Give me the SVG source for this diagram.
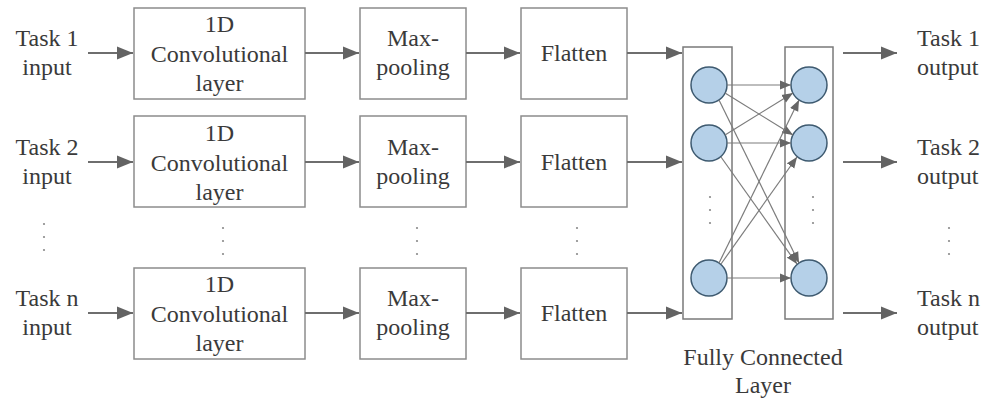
<svg xmlns="http://www.w3.org/2000/svg" width="988" height="398" viewBox="0 0 988 398">
  <style>
    text { font-size: 24px; fill: #3a3a3a; }
    .mid { text-anchor: middle; }
    .box { fill: #ffffff; stroke: #8c8c8c; stroke-width: 1.5; }
    .col { fill: none; stroke: #7a7a7a; stroke-width: 1.5; }
    .neuron { fill: #b5d0e8; stroke: #3e5a70; stroke-width: 1.5; }
    .flow { fill: none; stroke: #6e6e6e; stroke-width: 2.2; marker-end: url(#head); }
    .link { fill: none; stroke: #7c7c7c; stroke-width: 1.2; marker-end: url(#headSmall); }
    .dot { fill: #8a8a8a; }
  </style>
  <defs>
    <marker id="head" markerUnits="userSpaceOnUse" markerWidth="17" markerHeight="14" refX="16" refY="7" orient="auto">
      <path d="M0,0.5 L16,7 L0,13.5 Z" fill="#636363"/>
    </marker>
    <marker id="headSmall" markerUnits="userSpaceOnUse" markerWidth="12" markerHeight="10" refX="11" refY="5" orient="auto">
      <path d="M0,0.5 L11,5 L0,9.5 Z" fill="#666666"/>
    </marker>
    <g id="dots3">
      <circle class="dot" cx="0" cy="0" r="1.1"/>
      <circle class="dot" cx="0" cy="13" r="1.1"/>
      <circle class="dot" cx="0" cy="26" r="1.1"/>
    </g>
  </defs>

  <rect width="988" height="398" fill="#ffffff"/>

  <g font-family="Liberation Serif, Times New Roman, serif">
  <!-- input labels -->
  <g id="in1"><text class="mid" x="47" y="46">Task 1</text><text class="mid" x="47" y="75">input</text></g>
  <g id="in2"><text class="mid" x="47" y="155">Task 2</text><text class="mid" x="47" y="184">input</text></g>
  <g id="inN"><text class="mid" x="47" y="306">Task n</text><text class="mid" x="47" y="335">input</text></g>

  <!-- 1D convolutional layers -->
  <g id="conv1"><rect class="box" x="134" y="8" width="171" height="91"/>
    <text class="mid" x="219.5" y="32">1D</text><text class="mid" x="219.5" y="62">Convolutional</text><text class="mid" x="219.5" y="91">layer</text></g>
  <g id="conv2"><rect class="box" x="134" y="116" width="171" height="91"/>
    <text class="mid" x="219.5" y="141">1D</text><text class="mid" x="219.5" y="171">Convolutional</text><text class="mid" x="219.5" y="200">layer</text></g>
  <g id="convN"><rect class="box" x="134" y="268" width="171" height="91"/>
    <text class="mid" x="219.5" y="292">1D</text><text class="mid" x="219.5" y="322">Convolutional</text><text class="mid" x="219.5" y="351">layer</text></g>

  <!-- max-pooling layers -->
  <g id="pool1"><rect class="box" x="360" y="8" width="106" height="91"/>
    <text class="mid" x="413" y="46">Max-</text><text class="mid" x="413" y="75">pooling</text></g>
  <g id="pool2"><rect class="box" x="360" y="116" width="106" height="91"/>
    <text class="mid" x="413" y="155">Max-</text><text class="mid" x="413" y="184">pooling</text></g>
  <g id="poolN"><rect class="box" x="360" y="268" width="106" height="91"/>
    <text class="mid" x="413" y="306">Max-</text><text class="mid" x="413" y="335">pooling</text></g>

  <!-- flatten layers -->
  <g id="flat1"><rect class="box" x="521" y="8" width="106" height="91"/>
    <text class="mid" x="574" y="61">Flatten</text></g>
  <g id="flat2"><rect class="box" x="521" y="116" width="106" height="91"/>
    <text class="mid" x="574" y="170">Flatten</text></g>
  <g id="flatN"><rect class="box" x="521" y="268" width="106" height="91"/>
    <text class="mid" x="574" y="321">Flatten</text></g>

  <!-- fully connected layer -->
  <g id="fc-in">
    <rect class="col" x="683" y="47" width="49" height="272"/>
    <circle class="neuron" cx="709" cy="85" r="18"/>
    <circle class="neuron" cx="709" cy="143" r="18"/>
    <circle class="neuron" cx="709" cy="278" r="18"/>
    <use href="#dots3" x="710" y="197"/>
  </g>
  <g id="fc-out">
    <rect class="col" x="785" y="47" width="48" height="272"/>
    <circle class="neuron" cx="809" cy="85" r="18"/>
    <circle class="neuron" cx="809" cy="143" r="18"/>
    <circle class="neuron" cx="809" cy="278" r="18"/>
    <use href="#dots3" x="813" y="197"/>
  </g>
  <g id="fc-label">
    <text class="mid" x="763" y="365">Fully Connected</text>
    <text class="mid" x="763" y="393">Layer</text>
  </g>

  <!-- output labels -->
  <g id="out1"><text x="917" y="46">Task 1</text><text x="917" y="75">output</text></g>
  <g id="out2"><text x="917" y="155">Task 2</text><text x="917" y="184">output</text></g>
  <g id="outN"><text x="917" y="306">Task n</text><text x="917" y="335">output</text></g>
  </g>

  <!-- vertical ellipses between rows -->
  <g id="ellipses">
    <use href="#dots3" x="44" y="224"/>
    <use href="#dots3" x="223" y="228"/>
    <use href="#dots3" x="417" y="228"/>
    <use href="#dots3" x="577" y="228"/>
    <use href="#dots3" x="949" y="228"/>
  </g>

  <!-- connectors -->
  <g id="connectors">
    <line class="flow" x1="88" y1="53" x2="133" y2="53"/>
    <line class="flow" x1="88" y1="162" x2="133" y2="162"/>
    <line class="flow" x1="88" y1="313" x2="133" y2="313"/>
    <line class="flow" x1="305" y1="53" x2="359" y2="53"/>
    <line class="flow" x1="305" y1="162" x2="359" y2="162"/>
    <line class="flow" x1="305" y1="313" x2="359" y2="313"/>
    <line class="flow" x1="466" y1="53" x2="520" y2="53"/>
    <line class="flow" x1="466" y1="162" x2="520" y2="162"/>
    <line class="flow" x1="466" y1="313" x2="520" y2="313"/>
    <line class="flow" x1="627" y1="53" x2="682" y2="53"/>
    <line class="flow" x1="627" y1="162" x2="682" y2="162"/>
    <line class="flow" x1="627" y1="313" x2="682" y2="313"/>
    <line class="flow" x1="843" y1="53" x2="897" y2="53"/>
    <line class="flow" x1="843" y1="162" x2="897" y2="162"/>
    <line class="flow" x1="843" y1="313" x2="897" y2="313"/>

    <!-- dense links between neurons -->
    <line class="link" x1="727" y1="85" x2="791" y2="85"/>
    <line class="link" x1="725" y1="93" x2="793" y2="135"/>
    <line class="link" x1="719" y1="100" x2="799" y2="263"/>
    <line class="link" x1="725" y1="135" x2="793" y2="93"/>
    <line class="link" x1="727" y1="143" x2="791" y2="143"/>
    <line class="link" x1="721" y1="157" x2="797" y2="264"/>
    <line class="link" x1="719" y1="263" x2="799" y2="100"/>
    <line class="link" x1="721" y1="264" x2="797" y2="157"/>
    <line class="link" x1="727" y1="278" x2="791" y2="278"/>
  </g>
</svg>
